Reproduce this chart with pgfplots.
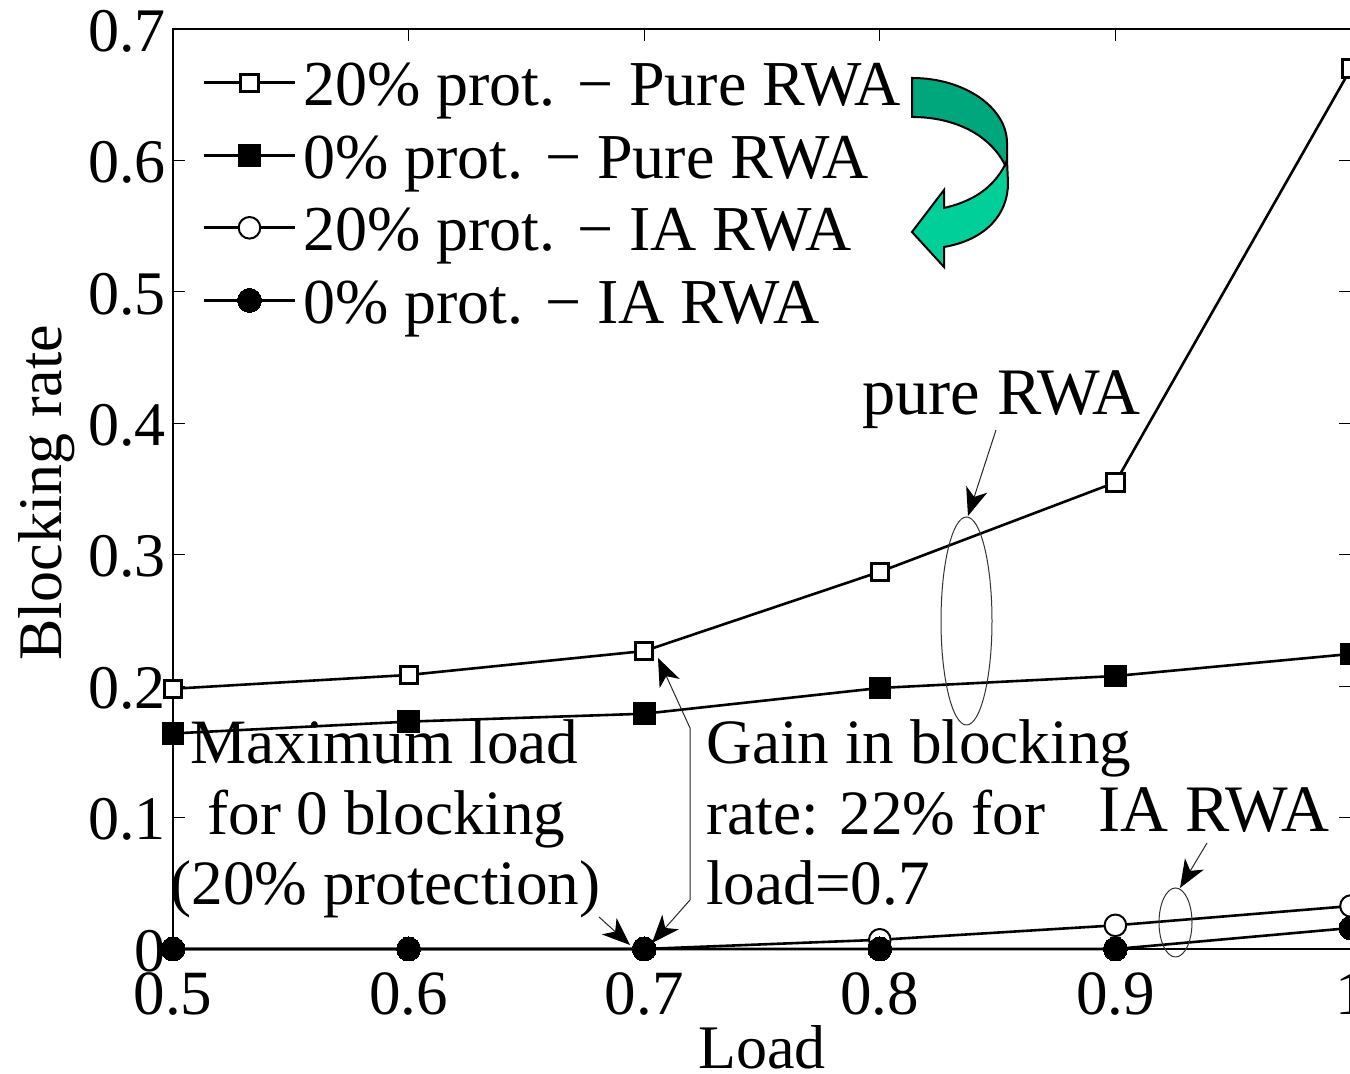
\documentclass[border=0pt]{standalone}
\usepackage{pgfplots}
\pgfplotsset{compat=1.18}
\usepackage{fontspec}
\setmainfont{Liberation Serif}
\usetikzlibrary{arrows.meta}
\pgfplotstableread{
x s1 s2 s3 s4
0.5 0.198 0.164 0 0
0.6 0.2085 0.173 0 0
0.7 0.2267 0.179 0 0
0.8 0.287 0.1986 0.007 0
0.9 0.355 0.2077 0.018 0
1.0 0.670 0.2245 0.0327 0.016
}\datatable
\definecolor{gdark}{HTML}{00A67C}
\definecolor{glight}{HTML}{00CF9A}
\newcommand{\bigf}{\fontsize{31.6}{32}\selectfont}
\newcommand{\legf}{\fontsize{32}{32}\selectfont}
\newcommand{\labf}{\fontsize{33.2}{33}\selectfont}
\begin{document}
\begin{tikzpicture}
\path[clip,use as bounding box] (0,0) rectangle (675pt,537pt);
\begin{axis}[
  at={(86.5pt,62.5pt)},anchor=origin,
  scale only axis,width=589pt,height=460pt,
  xmin=0.5,xmax=1,ymin=0,ymax=0.7,
  xtick={0.5,0.6,0.7,0.8,0.9,1},
  ytick={0,0.1,0.2,0.3,0.4,0.5,0.6,0.7},
  tick align=inside,major tick length=6pt,
  tick style={black,line width=0.5pt},
  axis line style={line width=0.6pt},
  axis lines=box,
  clip=false,
  /pgf/number format/assume math mode=true,
  /pgf/number format/fixed,/pgf/number format/precision=1,
  yticklabel style={font=\fontsize{31}{31}\selectfont,yshift=-1pt},
  xticklabel style={font=\fontsize{31.5}{32}\selectfont,yshift=-8.5pt},
  xlabel={Load},
  ylabel={Blocking rate},
  xlabel style={font=\fontsize{31}{31}\selectfont,at={(axis description cs:0.5002,0)},anchor=base,yshift=-60pt},
  ylabel style={font=\fontsize{31}{31}\selectfont,at={(axis description cs:0,0.4957)},anchor=base,yshift=55.5pt},
  legend style={draw=none,fill=none,at={(axis description cs:0.0252,0.9675)},anchor=north west,
    font=\legf,inner sep=0pt,outer sep=0pt,
    /tikz/every even column/.style={column sep=7.5pt},
    row sep=9.5pt},
  legend cell align=left,
  legend image code/.code={
    \draw[#1,mark=none] (0pt,1.5pt) -- (45.5pt,1.5pt);
    \draw[#1,only marks] plot coordinates {(22.75pt,1.5pt)};
  },
]
\addplot[black,line width=1.3pt,mark=square*,mark size=4.3pt,mark options={fill=white,line width=1.5pt}] table[x=x,y=s1]{\datatable};
\addlegendentry{\hspace*{1.5pt}20\% prot. − Pure RWA}
\addplot[black,line width=1.3pt,mark=square*,mark size=5.4pt,mark options={fill=black,line width=0pt}] table[x=x,y=s2]{\datatable};
\addlegendentry{\hspace*{1.5pt}0\% prot. − Pure RWA}
\addplot[black,line width=1.3pt,mark=*,mark size=5.4pt,mark options={fill=white,line width=1pt}] table[x=x,y=s3]{\datatable};
\addlegendentry{\hspace*{1.5pt}20\% prot. − IA RWA}
\addplot[black,line width=1.3pt,mark=*,mark size=6pt,mark options={fill=black,line width=0pt}] table[x=x,y=s4]{\datatable};
\addlegendentry{\hspace*{1.5pt}0\% prot. − IA RWA}
\end{axis}
\begin{scope}[shift={(0,537pt)},x=0.5pt,y=-0.5pt]
  % green turning arrow
  \draw[line width=1pt,fill=glight,line join=miter]
    (1005,165) .. controls (992,190) and (970,202) .. (944,208)
    -- (944,190) -- (912,232) -- (944,267) -- (944,247)
    .. controls (985,240) and (1008,215) .. (1008,183) -- (1007,160) -- cycle;
  \draw[line width=1pt,fill=gdark,line join=miter]
    (912,78) .. controls (965,78) and (1007,108) .. (1007,143) -- (1007,160) -- (1005,165)
    .. controls (990,135) and (955,117) .. (912,117) -- cycle;
  % ellipses
  \draw[line width=0.5pt,black!80] (966.5,621) ellipse [x radius=25.5,y radius=104];
  \draw[line width=0.5pt,black!80] (1175.5,922.5) ellipse [x radius=16.5,y radius=34.5];
  % arrows
  \tikzset{ah/.style={line width=0.5pt,black!85,-{Stealth[length=14pt,width=11pt,inset=4pt,black]}}}
  \draw[ah] (996,430) -- (968,516);
  \draw[ah] (1207,843) -- (1180,888);
  \draw[ah] (599,917) -- (630,945);
  \draw[line width=0.5pt,black!85,{Stealth[length=14pt,width=11pt,inset=4pt,black]}-{Stealth[length=14pt,width=11pt,inset=4pt,black]}] (658,658) -- (690,728) -- (690,900) -- (652,943);
  % annotations
  \tikzset{lab/.style={font=\bigf,inner sep=0pt,anchor=base west}}
  \node[lab,font=\labf] at (862,415) {pure RWA};
  \node[lab,font=\labf] at (1098,832) {IA RWA};
  \node[lab] at (190,764) {Maximum load};
  \node[lab] at (207,835) {for 0 blocking};
  \node[lab] at (170,905) {(20\% protection)};
  \node[lab] at (706,764) {Gain in blocking};
  \node[lab] at (706,835) {rate: 22\% for};
  \node[lab] at (706,905) {load=0.7};
\end{scope}
\end{tikzpicture}
\end{document}
